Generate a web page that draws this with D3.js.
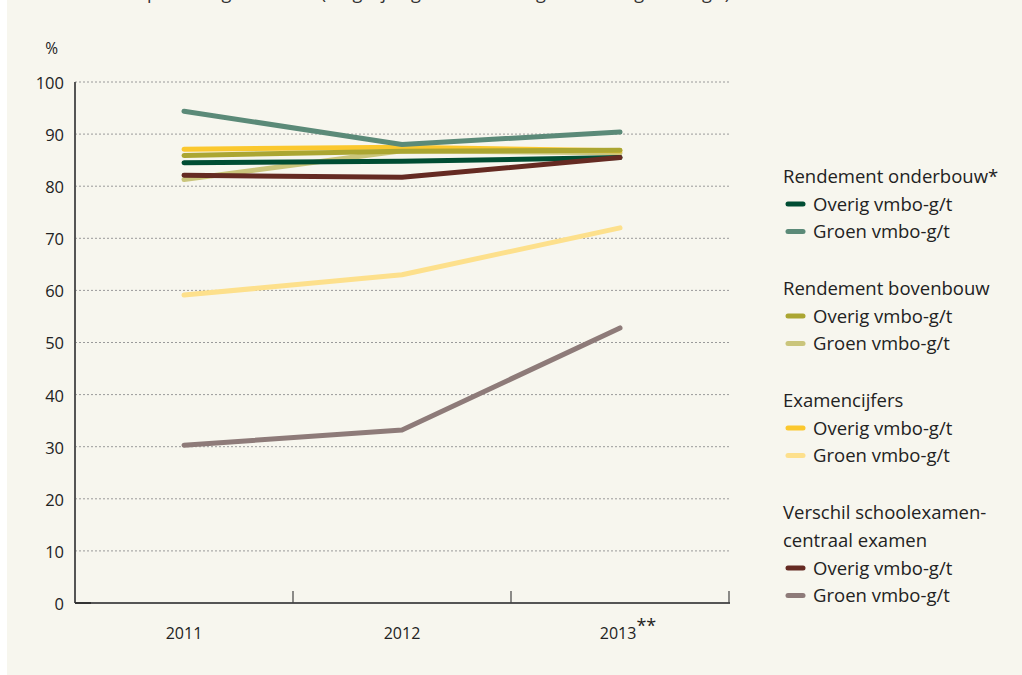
<!DOCTYPE html>
<html>
<head>
<meta charset="utf-8">
<script src="https://cdn.jsdelivr.net/npm/d3@7/dist/d3.min.js"></script>
<style>
  html, body { margin: 0; padding: 0; background: #ffffff; }
  svg { display: block; }
  text { font-family: "Open Sans", "Noto Sans", sans-serif; fill: #222; }
</style>
</head>
<body>
<svg id="chart" width="1022" height="675"></svg>
<script>
// Years on the x axis
const years = ["2011", "2012", "2013"];
const yearLabels = ["2011", "2012", "2013**"];
const yTicks = [0, 10, 20, 30, 40, 50, 60, 70, 80, 90, 100];

// Percentages per indicator and school type
const onderbouwOverig = [84.5, 84.8, 85.5];
const onderbouwGroen = [94.4, 88.0, 90.4];
const bovenbouwOverig = [85.9, 86.7, 86.9];
const bovenbouwGroen = [81.3, 86.8, 86.4];
const examenOverig = [87.1, 87.5, 86.8];
const examenGroen = [59.1, 63.0, 72.0];
const verschilOverig = [82.1, 81.7, 85.5];
const verschilGroen = [30.3, 33.2, 52.8];

const legendGroups = [
  { title: ["Rendement onderbouw*"], items: [
    { label: "Overig vmbo-g/t", color: "#004d33", values: onderbouwOverig },
    { label: "Groen vmbo-g/t", color: "#5b8a78", values: onderbouwGroen }] },
  { title: ["Rendement bovenbouw"], items: [
    { label: "Overig vmbo-g/t", color: "#aba632", values: bovenbouwOverig },
    { label: "Groen vmbo-g/t", color: "#cac57b", values: bovenbouwGroen }] },
  { title: ["Examencijfers"], items: [
    { label: "Overig vmbo-g/t", color: "#fbc82e", values: examenOverig },
    { label: "Groen vmbo-g/t", color: "#fde08c", values: examenGroen }] },
  { title: ["Verschil schoolexamen-", "centraal examen"], items: [
    { label: "Overig vmbo-g/t", color: "#652a22", values: verschilOverig },
    { label: "Groen vmbo-g/t", color: "#8e7b79", values: verschilGroen }] }
];

const svg = d3.select("#chart");

// Panel background
svg.append("rect").attr("x", 7).attr("y", 0).attr("width", 1015).attr("height", 675)
  .attr("fill", "#f7f6ee");

// Subtitle line running off the top edge
svg.append("text").attr("x", 40).attr("y", -1)
  .attr("font-size", 18).style("fill", "#333")
  .text("Gemiddelde percentages in 2013 (vergelijking Groen vmbo-g/t en Overig vmbo-g/t)");

const x = d3.scaleBand().domain(years).range([75, 729]);
const y = d3.scaleLinear().domain([0, 100]).range([603, 82]);

// Dotted grid lines
svg.append("g").selectAll("line").data(yTicks.filter(d => d > 0)).join("line")
  .attr("x1", 75).attr("x2", 731)
  .attr("y1", d => y(d)).attr("y2", d => y(d))
  .attr("stroke", "#9a9a9a").attr("stroke-width", 1).attr("stroke-dasharray", "2,2");

// Y axis
svg.append("line").attr("x1", 75).attr("x2", 75).attr("y1", y(100)).attr("y2", y(0))
  .attr("stroke", "#555").attr("stroke-width", 2);
svg.append("g").selectAll("text").data(yTicks).join("text")
  .attr("x", 64).attr("y", d => y(d) + 1).attr("dy", "0.36em")
  .attr("text-anchor", "end").attr("font-size", 16.5).text(d => d);
svg.append("text").attr("x", 58).attr("y", 48).attr("dy", "0.36em")
  .attr("text-anchor", "end").attr("font-size", 15.5).text("%");

// X axis with band separators
svg.append("line").attr("x1", 75).attr("x2", 730).attr("y1", y(0)).attr("y2", y(0))
  .attr("stroke", "#555").attr("stroke-width", 2);
svg.append("line").attr("x1", 75).attr("x2", 91).attr("y1", y(0)).attr("y2", y(0))
  .attr("stroke", "#333").attr("stroke-width", 2);
const bounds = years.map(d => x(d)).concat([x(years[years.length - 1]) + x.bandwidth()]);
svg.append("g").selectAll("line").data(bounds.slice(1)).join("line")
  .attr("x1", d => d).attr("x2", d => d).attr("y1", y(0)).attr("y2", y(0) - 12)
  .attr("stroke", "#444").attr("stroke-width", 1.2);
svg.append("g").selectAll("text").data(years).join("text")
  .attr("x", (d, i) => x(d) + x.bandwidth() / 2 + (i === 2 ? 8 : 0))
  .attr("y", 633).attr("dy", "0.36em").attr("text-anchor", "middle")
  .attr("font-size", 16)
  .each(function (d, i) {
    const t = d3.select(this);
    t.append("tspan").text(yearLabels[i].replace("**", ""));
    if (i === 2) t.append("tspan").attr("dy", "-0.35em").attr("font-size", 18).text("**");
  });

// Lines, drawn in stacking order
const line = d3.line().x((d, i) => x(years[i]) + x.bandwidth() / 2).y(d => y(d));
const series = legendGroups.flatMap(g => g.items);
const drawOrder = [7, 5, 3, 4, 2, 0, 6, 1];
svg.append("g").selectAll("path").data(drawOrder.map(i => series[i])).join("path")
  .attr("d", d => line(d.values))
  .attr("fill", "none").attr("stroke", d => d.color)
  .attr("stroke-width", 5).attr("stroke-linecap", "round").attr("stroke-linejoin", "round");

// Legend
const legend = svg.append("g");
let ly = 176;
legendGroups.forEach(g => {
  g.title.forEach(t => {
    legend.append("text").attr("x", 783).attr("y", ly).attr("dy", "0.36em")
      .attr("font-size", 18.5).text(t);
    ly += 28;
  });
  g.items.forEach(it => {
    legend.append("line").attr("x1", 788).attr("x2", 803).attr("y1", ly).attr("y2", ly)
      .attr("stroke", it.color).attr("stroke-width", 5).attr("stroke-linecap", "round");
    legend.append("text").attr("x", 813).attr("y", ly).attr("dy", "0.36em")
      .attr("font-size", 18.5).text(it.label);
    ly += 27.5;
  });
  ly += 29;
});
</script>
</body>
</html>
